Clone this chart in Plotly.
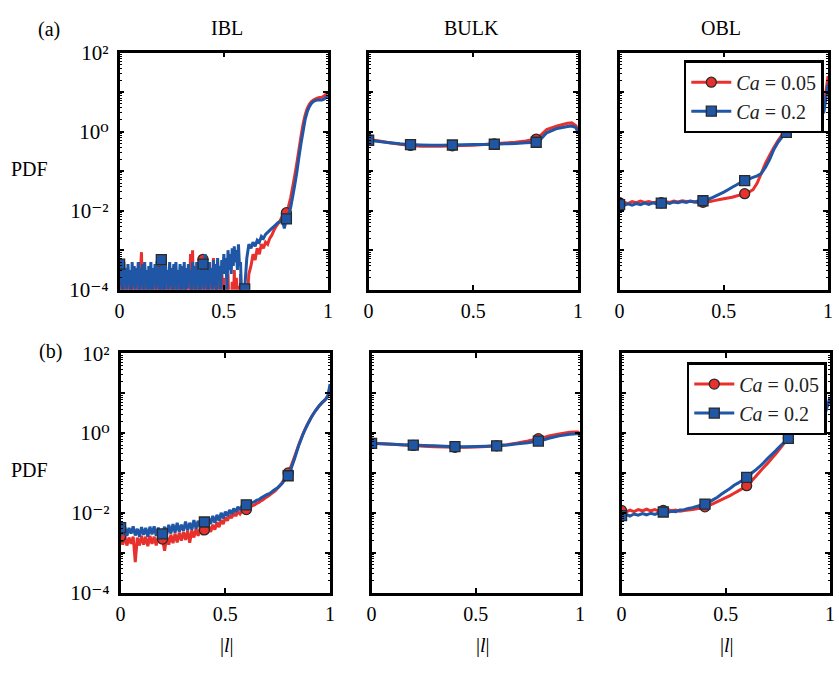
import plotly.graph_objects as go

W, H = 839, 673

# ---------------- data (values stored as log10 of the PDF) ----------------
x_ibl_a = [round(i * 0.005, 3) for i in range(121)] + [round(0.61 + i * 0.01, 2) for i in range(40)]
x_fine = [round(i * 0.01, 2) for i in range(101)]
x_mid = [round(i * 0.02, 2) for i in range(51)]
x_bulk = [0, 0.05, 0.1, 0.15, 0.2, 0.25, 0.3, 0.35, 0.4, 0.45, 0.5, 0.55, 0.6,
          0.65, 0.7, 0.75, 0.8, 0.82, 0.85, 0.9, 0.95, 0.97, 0.99, 1.0]

ibl_a_red = [-3.6, -4.5, -3.7, -4.6, -3.5, -4.3, -3.8, -4.6, -3.6, -4.4,
             -3.7, -4.6, -3.5, -4.2, -3.8, -4.6, -3.6, -4.5, -3.3, -4.6,
             -3.55, -3.05, -4.6, -3.7, -4.4, -3.6, -4.6, -3.5, -4.3, -3.7,
             -4.6, -3.6, -4.4, -3.5, -4.6, -3.7, -4.3, -3.2, -4.6, -3.6,
             -3.3, -4.6, -3.7, -4.3, -3.5, -4.6, -3.8, -4.4, -3.6, -4.6,
             -3.7, -4.5, -3.4, -4.6, -3.6, -4.3, -3.75, -4.6, -3.5, -4.4,
             -3.6, -4.6, -3.7, -4.2, -3.5, -4.6, -3.8, -4.4, -3.1, -4.6,
             -3.0, -4.5, -3.7, -4.6, -3.6, -4.3, -3.5, -4.6, -3.7, -4.4,
             -3.23, -4.6, -3.6, -4.3, -3.5, -4.6, -3.3, -4.5, -3.7, -4.6,
             -3.2, -4.4, -3.6, -4.6, -3.5, -4.2, -3.7, -4.6, -3.4, -4.5,
             -3.7, -4.6, -3.9, -4.7, -3.6, -4.6, -4.0, -4.7, -3.8, -4.6,
             -3.5, -4.7, -3.7, -4.6, -3.9, -4.7, -3.6, -4.6, -4.7, -4.6,
             -4.5,
             -4.4, -3.6, -3.4, -3.1, -3.25, -2.95, -3.1, -2.85, -2.95, -2.8,
             -2.85, -2.7, -2.62, -2.5, -2.4, -2.33, -2.25, -2.15, -2.1, -2.05,
             -1.9, -1.68, -1.4, -1.11, -0.8, -0.46, -0.12, 0.19, 0.42, 0.59,
             0.69, 0.76, 0.8, 0.83, 0.85, 0.86, 0.87, 0.9, 0.95, 1.0]
ibl_a_blue = [-3.35, -3.9, -3.4, -4.6, -3.3, -3.85, -3.45, -4.0, -3.35, -3.8,
              -3.5, -4.6, -3.3, -3.9, -3.4, -4.0, -3.45, -3.85, -3.3, -4.6,
              -3.45, -3.9, -3.35, -4.1, -3.3, -3.8, -3.5, -4.6, -3.4, -3.95,
              -3.3, -4.6, -3.45, -3.85, -3.35, -4.0, -3.3, -3.9, -3.45, -4.6,
              -3.24, -3.9, -3.4, -4.6, -3.35, -3.85, -3.5, -4.0, -3.3, -3.9,
              -3.45, -4.6, -3.35, -3.9, -3.3, -4.1, -3.5, -3.85, -3.35, -4.6,
              -3.4, -3.9, -3.3, -4.6, -3.45, -3.95, -3.35, -3.8, -3.5, -4.6,
              -3.3, -3.9, -3.4, -4.1, -3.3, -3.85, -3.5, -4.6, -3.35, -3.9,
              -3.35, -4.0, -3.1, -3.85, -3.4, -4.6, -3.3, -3.8, -3.45, -4.0,
              -3.25, -3.9, -3.35, -4.6, -3.2, -3.7, -3.4, -4.0, -3.25, -3.6,
              -3.1, -3.6, -3.2, -4.0, -3.0, -3.5, -3.1, -3.6, -2.95, -3.4,
              -2.9, -3.3, -3.0, -3.5, -2.85, -3.4, -3.3, -4.2, -4.6, -4.5,
              -3.98,
              -3.2, -2.85, -2.95, -2.8, -2.9, -2.75, -2.8, -2.65, -2.7, -2.6,
              -2.55, -2.5, -2.45, -2.4, -2.35, -2.3, -2.28, -2.22, -2.45, -2.21,
              -2.1, -1.93, -1.65, -1.35, -1.03, -0.65, -0.3, 0.0, 0.31, 0.5,
              0.63, 0.71, 0.76, 0.79, 0.8, 0.8, 0.8, 0.82, 0.86, 0.92]

bulk_a_red = [-0.2, -0.24, -0.28, -0.32, -0.35, -0.37, -0.37, -0.37, -0.36, -0.355,
              -0.345, -0.33, -0.31, -0.29, -0.27, -0.24, -0.19, -0.1, 0.05, 0.14,
              0.21, 0.22, 0.15, 0.0]
bulk_a_blue = [-0.22, -0.25, -0.28, -0.31, -0.33, -0.34, -0.345, -0.345, -0.34, -0.335,
               -0.33, -0.33, -0.32, -0.31, -0.3, -0.285, -0.27, -0.2, -0.03, 0.08,
               0.13, 0.14, 0.1, -0.05]

obl_a_red = [-1.8, -1.78, -1.82, -1.77, -1.8, -1.76, -1.79, -1.77, -1.8, -1.78,
             -1.8, -1.77, -1.79, -1.76, -1.78, -1.75, -1.77, -1.76, -1.78, -1.8,
             -1.79, -1.78, -1.76, -1.74, -1.72, -1.7, -1.68, -1.66, -1.63, -1.6,
             -1.57, -1.53, -1.47, -1.3, -1.05, -0.8, -0.6, -0.4, -0.23, -0.08,
             0.02, 0.14, 0.25, 0.34, 0.41, 0.46, 0.5, 0.48, 0.5, 0.66, 1.4]
obl_a_blue = [-1.85, -1.87, -1.83, -1.86, -1.82, -1.85, -1.81, -1.84, -1.8, -1.83,
              -1.81, -1.79, -1.82, -1.78, -1.8, -1.77, -1.79, -1.76, -1.78, -1.75,
              -1.75, -1.72, -1.68, -1.63, -1.58, -1.53, -1.47, -1.41, -1.35, -1.29,
              -1.24, -1.2, -1.16, -1.12, -1.06, -0.9, -0.7, -0.45, -0.27, -0.13,
              -0.02, 0.08, 0.17, 0.25, 0.32, 0.37, 0.38, 0.36, 0.37, 0.5, 1.2]

ibl_b_red = [-2.6, -2.8, -2.58, -2.82, -2.62, -2.78, -2.6, -3.24, -2.62, -2.82,
             -2.58, -2.8, -2.6, -2.84, -2.58, -2.78, -2.6, -2.82, -2.6, -2.76,
             -2.66, -2.95, -2.6, -2.8, -2.55, -2.76, -2.52, -2.74, -2.5, -2.7,
             -2.48, -2.68, -2.45, -2.75, -2.44, -2.62, -2.4, -2.58, -2.38, -2.55,
             -2.43, -2.5, -2.33, -2.48, -2.3, -2.42, -2.24, -2.36, -2.18, -2.28,
             -2.12, -2.2, -2.06, -2.13, -2.0, -2.08, -1.97, -2.03, -1.94, -1.98,
             -1.92, -1.88, -1.86, -1.82, -1.8, -1.76, -1.74, -1.7, -1.67, -1.63,
             -1.6, -1.56, -1.52, -1.48, -1.44, -1.38, -1.32, -1.25, -1.17, -1.09,
             -1.0, -0.88, -0.74, -0.6, -0.45, -0.3, -0.16, -0.03, 0.09, 0.2,
             0.3, 0.4, 0.48, 0.56, 0.63, 0.69, 0.75, 0.8, 0.85, 0.92, 1.15]
ibl_b_blue = [-2.37, -2.55, -2.35, -2.58, -2.38, -2.52, -2.34, -2.57, -2.4, -2.6,
              -2.36, -2.55, -2.38, -2.6, -2.35, -2.54, -2.34, -2.58, -2.37, -2.6,
              -2.53, -2.35, -2.55, -2.3, -2.52, -2.28, -2.5, -2.25, -2.48, -2.3,
              -2.45, -2.22, -2.44, -2.25, -2.42, -2.18, -2.4, -2.2, -2.36, -2.15,
              -2.23, -2.32, -2.12, -2.28, -2.08, -2.25, -2.05, -2.2, -2.0, -2.14,
              -1.97, -2.08, -1.93, -2.03, -1.89, -1.98, -1.85, -1.93, -1.82, -1.88,
              -1.8, -1.79, -1.77, -1.74, -1.72, -1.68, -1.67, -1.63, -1.6, -1.57,
              -1.54, -1.52, -1.48, -1.44, -1.4, -1.37, -1.32, -1.27, -1.2, -1.14,
              -1.07, -0.95, -0.8, -0.65, -0.48, -0.32, -0.18, -0.04, 0.08, 0.19,
              0.29, 0.39, 0.48, 0.56, 0.63, 0.7, 0.76, 0.81, 0.86, 0.95, 1.23]

bulk_b_red = [-0.25, -0.265, -0.28, -0.3, -0.31, -0.33, -0.34, -0.35, -0.355, -0.355,
              -0.35, -0.335, -0.32, -0.29, -0.25, -0.2, -0.14, -0.12, -0.07, -0.02,
              0.02, 0.03, 0.03, -0.02]
bulk_b_blue = [-0.26, -0.27, -0.28, -0.29, -0.3, -0.31, -0.32, -0.33, -0.34, -0.34,
               -0.335, -0.33, -0.32, -0.3, -0.27, -0.24, -0.2, -0.18, -0.13, -0.07,
               -0.03, -0.02, -0.01, -0.06]

obl_b_red = [-1.94, -1.98, -1.93, -1.97, -1.92, -1.95, -1.91, -1.95, -1.92, -1.96,
             -1.94, -1.92, -1.95, -1.93, -1.96, -1.94, -1.93, -1.92, -1.9, -1.88,
             -1.85, -1.81, -1.77, -1.72, -1.67, -1.62, -1.57, -1.51, -1.45, -1.39,
             -1.32, -1.22, -1.11, -0.99, -0.87, -0.76, -0.64, -0.52, -0.39, -0.25,
             -0.12, 0.0, 0.11, 0.22, 0.32, 0.41, 0.47, 0.52, 0.56, 0.62, 0.82]
obl_b_blue = [-2.07, -2.04, -2.08, -2.03, -2.06, -2.02, -2.05, -2.01, -2.04, -2.0,
              -1.98, -2.0, -1.96, -1.97, -1.93, -1.92, -1.89, -1.87, -1.84, -1.81,
              -1.78, -1.73, -1.67, -1.61, -1.53, -1.46, -1.39, -1.31, -1.25, -1.18,
              -1.11, -1.02, -0.94, -0.85, -0.75, -0.64, -0.54, -0.44, -0.33, -0.23,
              -0.13, -0.03, 0.08, 0.18, 0.28, 0.37, 0.43, 0.48, 0.51, 0.55, 0.9]

marker_x = [0.0, 0.2, 0.4, 0.6, 0.8]
series_names = ["<i>Ca</i> = 0.05", "<i>Ca</i> = 0.2"]
column_titles = ["IBL", "BULK", "OBL"]
row_labels = ["(a)", "(b)"]
ytick_vals = [1e-4, 1e-2, 1, 1e2]
ytick_text = ["10\u207b\u2074", "10\u207b\u00b2", "10\u2070", "10\u00b2"]
yodd_vals = [1e-3, 1e-1, 1e1]
yminor_vals = [m * 10.0 ** e for e in range(-4, 2) for m in range(2, 10)]

# ---------------- styling ----------------
RED = "#e8312d"
BLUE = "#1f56a6"
EDGE = "#2a2a2a"
FONT = "Liberation Serif, DejaVu Serif, Times New Roman, serif"
FS = 20

# pixel boxes of the panels: (left, right, top, bottom)
boxes = [
    [(116, 327, 42, 288), (368, 580, 42, 288), (622, 833, 42, 288)],
    [(117, 329, 354, 602), (371, 582, 354, 602), (624, 835, 354, 602)],
]
panels = [
    [(x_ibl_a, ibl_a_red, ibl_a_blue), (x_bulk, bulk_a_red, bulk_a_blue), (x_mid, obl_a_red, obl_a_blue)],
    [(x_fine, ibl_b_red, ibl_b_blue), (x_bulk, bulk_b_red, bulk_b_blue), (x_mid, obl_b_red, obl_b_blue)],
]

def pxx(v):
    return v / W

def pxy(v):
    return 1 - v / H

fig = go.Figure()
layout = {}
k = 0
for r in range(2):
    for c in range(3):
        k += 1
        xa = "x" if k == 1 else f"x{k}"
        ya = "y" if k == 1 else f"y{k}"
        xs, red_log, blue_log = panels[r][c]
        for vals, col, sym in ((red_log, RED, "circle"), (blue_log, BLUE, "square")):
            ys = [10 ** v for v in vals]
            fig.add_trace(go.Scatter(x=xs, y=ys, mode="lines", xaxis=xa, yaxis=ya,
                                     line=dict(color=col, width=3, simplify=False),
                                     showlegend=False, hoverinfo="skip"))
            idx = [i for i, v in enumerate(xs) if any(abs(v - m) < 1e-9 for m in marker_x)]
            fig.add_trace(go.Scatter(x=[xs[i] for i in idx], y=[ys[i] for i in idx],
                                     mode="markers", xaxis=xa, yaxis=ya, showlegend=False,
                                     marker=dict(symbol=sym, size=10, color=col,
                                                 line=dict(color=EDGE, width=1.3))))
        L, R, T, B = boxes[r][c]
        axname_x = "xaxis" if k == 1 else f"xaxis{k}"
        axname_y = "yaxis" if k == 1 else f"yaxis{k}"
        layout[axname_x] = dict(domain=[pxx(L), pxx(R)], anchor=ya, range=[0, 1],
                                tickmode="array", tickvals=[0, 0.5, 1], ticktext=["0", "0.5", "1"],
                                ticks="inside", ticklen=5, tickwidth=1.5, tickcolor="black",
                                showline=True, linewidth=2.5, linecolor="black", mirror="ticks",
                                showgrid=False, zeroline=False, ticklabelstandoff=2,
                                tickfont=dict(family=FONT, size=FS, color="black"))
        layout[axname_y] = dict(domain=[pxy(B), pxy(T)], anchor=xa, type="log", range=[-4, 2],
                                tickmode="array", tickvals=ytick_vals, ticktext=ytick_text,
                                ticks="inside", ticklen=5, tickwidth=1.5, tickcolor="black",
                                showline=True, linewidth=2.5, linecolor="black", mirror="ticks",
                                showgrid=False, zeroline=False, showticklabels=(c == 0),
                                ticklabelstandoff=4,
                                tickfont=dict(family=FONT, size=FS + 1, color="black"))
        # overlay axes carrying the unlabeled odd-decade ticks and the minor log ticks
        for extra, tv, tl, tw in ((6, yodd_vals, 5, 1.5), (12, yminor_vals, 2.5, 1)):
            km = k + extra
            layout[f"yaxis{km}"] = dict(domain=[pxy(B), pxy(T)], anchor=xa, overlaying=ya,
                                        type="log", range=[-4, 2], tickmode="array",
                                        tickvals=tv, ticks="inside", ticklen=tl,
                                        tickwidth=tw, tickcolor="black", showticklabels=False,
                                        showline=True, linewidth=2.5, linecolor="black",
                                        mirror="ticks", showgrid=False, zeroline=False)
            fig.add_trace(go.Scatter(x=[None], y=[None], xaxis=xa, yaxis=f"y{km}", mode="lines",
                                     showlegend=False, hoverinfo="skip"))
        if c == 2:
            leg = "legend" if r == 0 else "legend2"
            for name, col, sym in ((series_names[0], RED, "circle"), (series_names[1], BLUE, "square")):
                fig.add_trace(go.Scatter(x=[None], y=[None], mode="lines+markers", name=name,
                                         xaxis=xa, yaxis=ya, legend=leg,
                                         line=dict(color=col, width=3),
                                         marker=dict(symbol=sym, size=10, color=col,
                                                     line=dict(color=EDGE, width=1.3))))

legend_style = dict(bgcolor="white", bordercolor="black", borderwidth=2.5,
                    font=dict(family=FONT, size=FS, color="#222"),
                    xanchor="left", yanchor="top", tracegroupgap=0, itemwidth=40)
layout["legend"] = dict(x=pxx(687), y=pxy(50), **legend_style)
layout["legend2"] = dict(x=pxx(690), y=pxy(363), **legend_style)

annotations = []
def ann(text, x, y, size=FS):
    annotations.append(dict(text=text, x=pxx(x), y=pxy(y), xref="paper", yref="paper",
                            showarrow=False, xanchor="center", yanchor="middle",
                            font=dict(family=FONT, size=size, color="black")))

title_x = [225, 472, 725]
for t, xx in zip(column_titles, title_x):
    ann(t, xx, 17)
ann(row_labels[0], 45, 18)
ann(row_labels[1], 46, 352)
ann("PDF", 25, 163)
ann("PDF", 25, 475)
for xx in (225, 484, 731):
    ann("|<i>l</i>|", xx, 657)

fig.update_layout(width=W, height=H, margin=dict(l=0, r=0, t=0, b=0),
                  paper_bgcolor="white", plot_bgcolor="white",
                  annotations=annotations, **layout)

fig.write_html("out.html")
